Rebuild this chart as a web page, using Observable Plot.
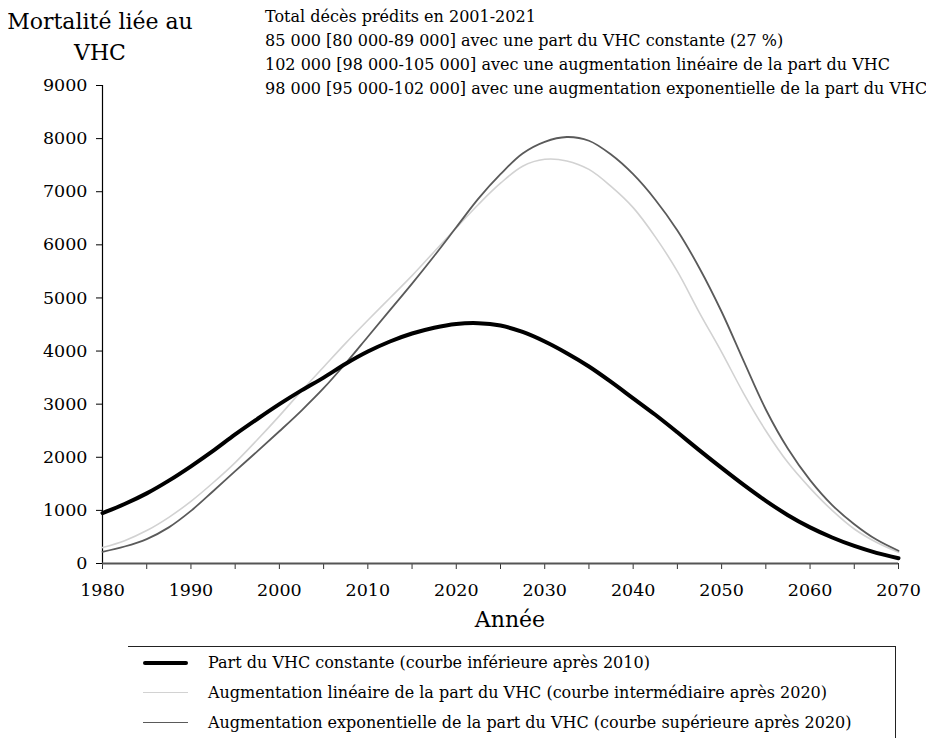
<!DOCTYPE html>
<html>
<head>
<meta charset="utf-8">
<script src="https://cdn.jsdelivr.net/npm/d3@7"></script>
<script src="https://cdn.jsdelivr.net/npm/@observablehq/plot@0.6"></script>
<style>
  html, body { margin: 0; padding: 0; background: #fff; }
  #wrap { position: relative; width: 926px; height: 738px; overflow: hidden; font-family: "DejaVu Serif", serif; color: #000; }
  #chart { position: absolute; left: 0; top: 0; }
  .ytitle { position: absolute; left: 0; top: 6px; width: 200px; text-align: center; font-size: 22px; line-height: 31px; }
  .notes { position: absolute; left: 265px; top: 5px; font-size: 16px; line-height: 24px; white-space: nowrap; }
  .xtitle { position: absolute; left: 410px; width: 200px; top: 607px; text-align: center; font-size: 22px; line-height: 26px; }
  .legend { position: absolute; left: 128px; top: 646px; width: 767px; height: 120px; border-top: 1px solid #222; border-right: 1px solid #222; }
  .row { position: absolute; left: 0; height: 30px; width: 100%; }
  .sw { position: absolute; left: 15px; width: 45px; top: 50%; }
  .lab { position: absolute; left: 80px; top: 0; line-height: 30px; font-size: 16px; white-space: nowrap; }
</style>
</head>
<body>
<div id="wrap">
  <div id="chart"></div>
  <div class="ytitle">Mortalité liée au<br>VHC</div>
  <div class="notes" id="notes"></div>
  <div class="xtitle">Année</div>
  <div class="legend" id="legend"></div>
</div>
<script>
// ---- Data ----
const years = [1980, 1982.5, 1985, 1987.5, 1990, 1992.5, 1995, 1997.5, 2000, 2002.5,
  2005, 2007.5, 2010, 2012.5, 2015, 2017.5, 2020, 2022.5, 2025, 2027.5,
  2030, 2032.5, 2035, 2037.5, 2040, 2042.5, 2045, 2047.5, 2050, 2052.5,
  2055, 2057.5, 2060, 2062.5, 2065, 2067.5, 2070];

// Part du VHC constante
const constantShare = [950, 1120, 1320, 1560, 1830, 2120, 2430, 2720, 3000, 3260,
  3500, 3760, 3990, 4180, 4330, 4440, 4510, 4525, 4480, 4360,
  4180, 3960, 3710, 3420, 3110, 2800, 2470, 2130, 1800, 1480,
  1180, 910, 680, 490, 330, 200, 100];

// Augmentation linéaire de la part du VHC
const linearShare = [300, 430, 620, 870, 1170, 1520, 1900, 2330, 2780, 3250,
  3700, 4150, 4580, 5000, 5420, 5870, 6320, 6760, 7160, 7480,
  7610, 7580, 7420, 7100, 6700, 6150, 5500, 4720, 3980, 3200,
  2500, 1900, 1420, 1000, 650, 400, 210];

// Augmentation exponentielle de la part du VHC
const exponentialShare = [220, 320, 460, 680, 990, 1360, 1740, 2110, 2490, 2880,
  3300, 3770, 4270, 4770, 5270, 5790, 6330, 6870, 7330, 7720,
  7940, 8030, 7960, 7700, 7330, 6850, 6270, 5560, 4740, 3810,
  2900, 2160, 1570, 1100, 740, 450, 240];

const xTicks = [1980, 1985, 1990, 1995, 2000, 2005, 2010, 2015, 2020, 2025, 2030, 2035, 2040, 2045, 2050, 2055, 2060, 2065, 2070];
const xTickLabels = [1980, 1990, 2000, 2010, 2020, 2030, 2040, 2050, 2060, 2070];
const yTicks = [0, 1000, 2000, 3000, 4000, 5000, 6000, 7000, 8000, 9000];

const noteLines = [
  "Total décès prédits en 2001-2021",
  "85 000 [80 000-89 000] avec une part du VHC constante (27 %)",
  "102 000 [98 000-105 000] avec une augmentation linéaire de la part du VHC",
  "98 000 [95 000-102 000] avec une augmentation exponentielle de la part du VHC"
];

const seriesNames = [
  "Part du VHC constante (courbe inférieure après 2010)",
  "Augmentation linéaire de la part du VHC (courbe intermédiaire après 2020)",
  "Augmentation exponentielle de la part du VHC (courbe supérieure après 2020)"
];
const seriesColors = ["#000000", "#d2d2d2", "#5a5a5a"];
const seriesWidths = [4, 1.6, 1.8];

// ---- Build tables ----
const toRows = (vals) => years.map((y, i) => ({year: y, value: vals[i]}));
const constantData = toRows(constantShare);
const linearData = toRows(linearShare);
const exponentialData = toRows(exponentialShare);

const chart = Plot.plot({
  width: 926,
  height: 630,
  marginLeft: 102,
  marginRight: 28,
  marginTop: 85,
  marginBottom: 67,
  x: {domain: [1980, 2070]},
  y: {domain: [0, 9000]},
  style: {fontFamily: "DejaVu Serif", fontSize: "17.5px", color: "#000", background: "transparent", overflow: "visible"},
  marks: [
    Plot.axisY({ticks: yTicks, tickSize: 6, tickPadding: 9, label: null, tickFormat: d => String(d), stroke: "#000"}),
    Plot.axisX({ticks: xTicks, tickSize: 6, tickPadding: 14, label: null, stroke: "#333",
      tickFormat: d => xTickLabels.includes(d) ? String(d) : ""}),
    Plot.ruleX([1980], {stroke: "#000", strokeWidth: 1.2}),
    Plot.ruleY([0], {stroke: "#555", strokeWidth: 2}),
    Plot.line(linearData, {x: "year", y: "value", stroke: seriesColors[1], strokeWidth: seriesWidths[1], curve: "catmull-rom"}),
    Plot.line(exponentialData, {x: "year", y: "value", stroke: seriesColors[2], strokeWidth: seriesWidths[2], curve: "catmull-rom"}),
    Plot.line(constantData, {x: "year", y: "value", stroke: seriesColors[0], strokeWidth: seriesWidths[0], curve: "catmull-rom"})
  ]
});
document.getElementById("chart").appendChild(chart);

// Notes
const notes = document.getElementById("notes");
noteLines.forEach(t => { const d = document.createElement("div"); d.textContent = t; notes.appendChild(d); });

// Legend
const legend = document.getElementById("legend");
seriesNames.forEach((name, i) => {
  const row = document.createElement("div");
  row.className = "row";
  row.style.top = (1 + i * 30) + "px";
  const sw = document.createElement("div");
  sw.className = "sw";
  sw.style.borderTop = seriesWidths[i] + "px solid " + seriesColors[i];
  sw.style.marginTop = (-seriesWidths[i] / 2) + "px";
  if (i === 0) sw.style.borderRadius = "2px";
  const lab = document.createElement("div");
  lab.className = "lab";
  lab.textContent = name;
  row.appendChild(sw);
  row.appendChild(lab);
  legend.appendChild(row);
});
</script>
</body>
</html>
